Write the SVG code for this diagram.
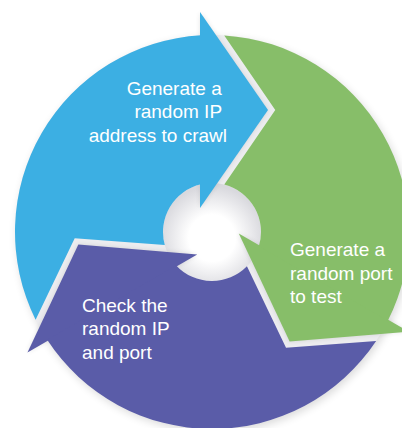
<svg xmlns="http://www.w3.org/2000/svg" width="402" height="428" viewBox="0 0 402 428">
  <defs>
    <style>
      .label { font-family: "Liberation Sans", Arial, sans-serif; font-size: 19px; fill: #ffffff; }
      .blue { fill: #3cafe3; }
      .green { fill: #87be69; }
      .purple { fill: #5a5ca8; }
      .headShadow { fill: #000000; opacity: 0.10; }
    </style>
    <radialGradient id="holeShade" cx="0" cy="6" r="52" gradientUnits="userSpaceOnUse">
      <stop offset="0.45" stop-color="#ffffff"/>
      <stop offset="1" stop-color="#d9d9de"/>
    </radialGradient>
    <filter id="soft" x="-20%" y="-20%" width="140%" height="140%">
      <feGaussianBlur stdDeviation="4"/>
    </filter>
    <filter id="softSmall" x="-20%" y="-20%" width="140%" height="140%">
      <feGaussianBlur stdDeviation="2.5"/>
    </filter>
    <!-- ring segment, centred on the origin, arrow end at the top; the tail carries a notch for the incoming arrow -->
    <path id="body" d="M -11,-196.69 L -11,-47.75 A 49 49 0 0 0 -47.22,13.08 L -137.29,6.21 L -176.40,87.70 A 197 197 0 0 1 -11,-196.69 Z"/>
    <!-- arrowhead sitting on the end of a segment -->
    <path id="head" d="M -12,-220 L 56,-122 L -12,-24 Z"/>
  </defs>

  <rect width="402" height="428" fill="#ffffff"/>

  <!-- ring backdrop: soft outer shadow, grey gaps and shaded centre -->
  <g transform="translate(212,232)">
    <circle cx="2" cy="3" r="197" fill="#000000" opacity="0.14" filter="url(#soft)"/>
    <circle r="197" fill="#ececef"/>
    <circle r="49" fill="url(#holeShade)"/>
  </g>

  <g id="connectors" transform="translate(212,232)">
    <use href="#head" class="headShadow" filter="url(#softSmall)"/>
    <use href="#head" class="headShadow" filter="url(#softSmall)" transform="rotate(120)"/>
    <use href="#head" class="headShadow" filter="url(#softSmall)" transform="rotate(240)"/>
    <use href="#head" class="blue"/>
    <use href="#head" class="green" transform="rotate(120)"/>
    <use href="#head" class="purple" transform="rotate(240)"/>
  </g>

  <g id="step-generate-ip">
    <use href="#body" class="blue" transform="translate(212,232)"/>
    <text class="label" text-anchor="end">
      <tspan x="227" y="94.5">Generate a</tspan>
      <tspan x="227" y="118">random IP</tspan>
      <tspan x="227" y="141.5">address to crawl</tspan>
    </text>
  </g>

  <g id="step-generate-port">
    <use href="#body" class="green" transform="translate(212,232) rotate(120)"/>
    <text class="label">
      <tspan x="290" y="256">Generate a</tspan>
      <tspan x="290" y="279.5">random port</tspan>
      <tspan x="290" y="303">to test</tspan>
    </text>
  </g>

  <g id="step-check">
    <use href="#body" class="purple" transform="translate(212,232) rotate(240)"/>
    <text class="label">
      <tspan x="82" y="311.5">Check the</tspan>
      <tspan x="82" y="335">random IP</tspan>
      <tspan x="82" y="358.5">and port</tspan>
    </text>
  </g>
</svg>
